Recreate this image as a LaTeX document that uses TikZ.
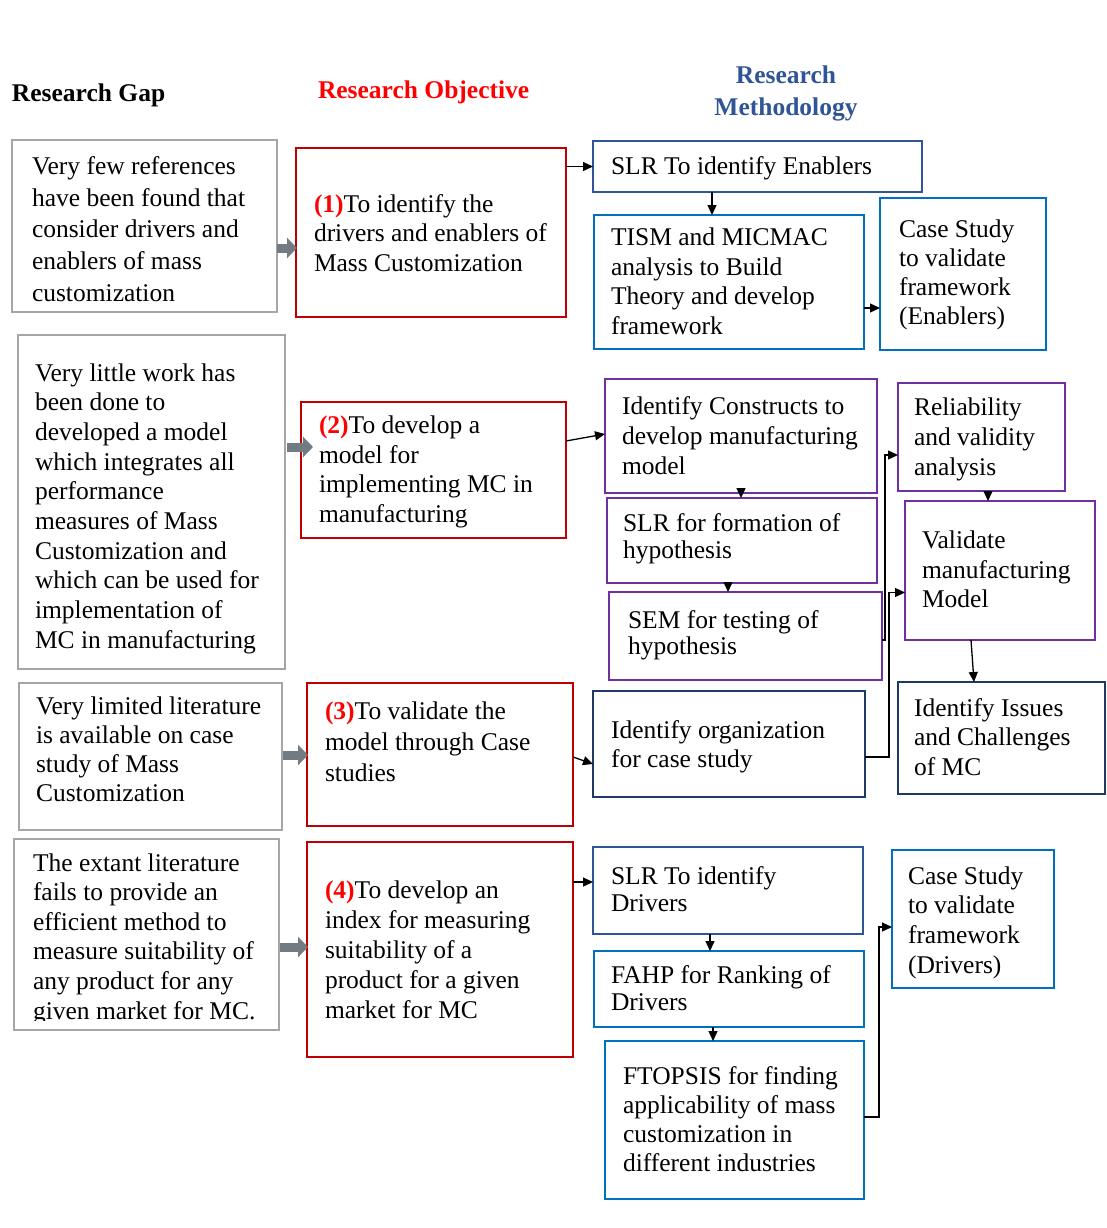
\documentclass[tikz,border=0pt]{standalone}
\usepackage{fontspec}
\setmainfont{Liberation Serif}
\usetikzlibrary{arrows.meta,calc}

\definecolor{gapgray}{HTML}{A6A6A6}
\definecolor{objred}{HTML}{C00000}
\definecolor{numred}{HTML}{FF0000}
\definecolor{midblue}{HTML}{2F5597}
\definecolor{brightblue}{HTML}{0070C0}
\definecolor{methpurple}{HTML}{7030A0}
\definecolor{darknavy}{HTML}{1F3864}
\definecolor{blockgray}{HTML}{727A82}

% a framed box given by its corners (x1,y1) and (x2,y2)
\newcommand\boxat[6]{%
  \node[#2, minimum width={(#5)-(#3)}, minimum height={(#6)-(#4)}]
    (#1) at ({((#3)+(#5))/2},{((#4)+(#6))/2}) {};}
% a left-aligned text block; #3 is the middle of the first line's x-height, #4 the line pitch
\newcommand\txtat[5]{\node[txt=#4] (#1) at (#2,{(#3)-11.7}) {#5};}
\newcommand\num[1]{{\bfseries\color{numred}(#1)}}

\tikzset{
  frame/.style={draw, line width=2.6pt, inner sep=0, outer sep=0, fill=white},
  gapbox/.style={frame, draw=gapgray},
  objbox/.style={frame, draw=objred},
  slrbox/.style={frame, draw=midblue},
  bluebox/.style={frame, draw=brightblue},
  purplebox/.style={frame, draw=methpurple},
  navybox/.style={frame, draw=darknavy},
  txt/.style={inner sep=0, outer sep=0, anchor=north west, align=left,
              font=\fontsize{25.5}{#1}\selectfont},
  txt/.default=29.7,
  hdr/.style={inner sep=0, outer sep=0, font=\bfseries\fontsize{25.5}{32}\selectfont},
  arr/.style={draw=black, line width=1.3pt, -{Triangle[length=10pt,width=9pt]}},
  fatarr/.style={draw=blockgray, line width=9pt, -{Triangle[length=10pt,width=20pt]}}
}

\begin{document}
\begin{tikzpicture}[x=1pt, y=-1pt]
\useasboundingbox (0,0) rectangle (1106,1228);

% column headings
\node[hdr, anchor=base west] (hgap) at (12,102) {Research Gap};
\node[hdr, anchor=base west, text=numred] (hobj) at (318,99) {Research Objective};
\node[hdr, anchor=north, align=center, text=midblue] (hmeth) at (786,66) {Research\\Methodology};

% research gaps
\boxat{g1}{gapbox}{12}{140}{277}{312}
\boxat{g2}{gapbox}{18}{335}{285}{669}
\boxat{g3}{gapbox}{19}{683}{282}{830}
\boxat{g4}{gapbox}{14}{839}{279}{1030}
\txtat{g1t}{32}{168}{31.75}{Very few references\\have been found that\\consider drivers and\\enablers of mass\\customization}
\txtat{g2t}{35}{375}{29.7}{Very little work has\\been done to\\developed a model\\which integrates all\\performance\\measures of Mass\\Customization and\\which can be used for\\implementation of\\MC in manufacturing}
\txtat{g3t}{36}{708}{29.3}{Very limited literature\\is available on case\\study of Mass\\Customization}
\begin{scope}
  \clip (g4.north west) rectangle ($(g4.south east)+(0,-10)$);
  \txtat{g4t}{33}{865}{29.6}{The extant literature\\fails to provide an\\efficient method to\\measure suitability of\\any product for any\\given market for MC.}
\end{scope}

% research objectives
\boxat{o1}{objbox}{296}{148}{566}{317}
\boxat{o2}{objbox}{301}{402}{566}{538}
\boxat{o3}{objbox}{307}{683}{573}{826}
\boxat{o4}{objbox}{307}{842}{573}{1057}
\txtat{o1t}{314}{206}{29.5}{\num{1}To identify the\\drivers and enablers of\\Mass Customization}
\txtat{o2t}{319}{428}{29.5}{\num{2}To develop a\\model for\\implementing MC in\\manufacturing}
\txtat{o3t}{325}{713}{31}{\num{3}To validate the\\model through Case\\studies}
\txtat{o4t}{325}{892}{30}{\num{4}To develop an\\index for measuring\\suitability of a\\product for a given\\market for MC}

% methodology: enablers
\boxat{m1}{slrbox}{593}{141}{922}{192}
\boxat{m2}{bluebox}{594}{215}{864}{349}
\boxat{m3}{bluebox}{880}{198}{1046}{350}
\txtat{m1t}{611}{168}{29.5}{SLR To identify Enablers}
\txtat{m2t}{611}{240}{29.4}{TISM and MICMAC\\analysis to Build\\Theory and develop\\framework}
\txtat{m3t}{899}{232}{29}{Case Study\\to validate\\framework\\(Enablers)}

% methodology: manufacturing model
\boxat{p1}{purplebox}{605}{379}{877}{493}
\boxat{p2}{purplebox}{607}{498}{877}{583}
\boxat{p3}{purplebox}{609}{592}{882}{680}
\boxat{p4}{purplebox}{898}{383}{1065}{491}
\boxat{p5}{purplebox}{905}{501}{1095}{640}
\txtat{p1t}{622}{408}{30}{Identify Constructs to\\develop manufacturing\\model}
\txtat{p2t}{623}{525}{27}{SLR for formation of\\hypothesis}
\txtat{p3t}{628}{622}{26.5}{SEM for testing of\\hypothesis}
\txtat{p4t}{914}{410}{30}{Reliability\\and validity\\analysis}
\txtat{p5t}{922}{543}{29.5}{Validate\\manufacturing\\Model}

% methodology: case study
\boxat{d1}{navybox}{593}{691}{865}{797}
\boxat{d2}{navybox}{898}{682}{1105}{794}
\txtat{d1t}{611}{732}{29}{Identify organization\\for case study}
\txtat{d2t}{914}{710}{29.5}{Identify Issues\\and Challenges\\of MC}

% methodology: drivers
\boxat{q1}{slrbox}{593}{847}{863}{934}
\boxat{q2}{bluebox}{594}{951}{864}{1027}
\boxat{q3}{bluebox}{605}{1041}{864}{1199}
\boxat{q4}{bluebox}{892}{850}{1054}{988}
\txtat{q1t}{611}{878}{27.5}{SLR To identify\\Drivers}
\txtat{q2t}{611}{977}{27.5}{FAHP for Ranking of\\Drivers}
\txtat{q3t}{623}{1078}{29}{FTOPSIS for finding\\applicability of mass\\customization in\\different industries}
\txtat{q4t}{908}{878}{29.7}{Case Study\\to validate\\framework\\(Drivers)}

% gap -> objective block arrows
\draw[fatarr] ($(g1.east)+(0,22)$) -- ($(o1.west)+(1,15.5)$);
\draw[fatarr] ($(g2.east)+(2,-55)$) -- ($(o2.west)+(12,-23)$);
\draw[fatarr] ($(g3.east)+(1,-1.5)$) -- ($(o3.west)+(1,0.5)$);
\draw[fatarr] ($(g4.east)+(1,12.5)$) -- ($(o4.west)+(1,-2.5)$);

% guide coordinates for vertical and horizontal runs
\coordinate (xa) at (712,0);
\coordinate (ya) at (0,308);
\coordinate (xb) at (741,0);
\coordinate (xc) at (728,0);
\coordinate (xd) at (988,0);
\coordinate (yb) at (0,882);
\coordinate (xe) at (710,0);
\coordinate (xf) at (713,0);

% objective 1
\draw[arr] (o1.east |- m1.west) -- (m1.west);
\draw[arr] (m1.south -| xa) -- (m2.north -| xa);
\draw[arr] (m2.east |- ya) -- (m3.west |- ya);

% objective 2
\draw[arr] ($(o2.north east)+(0,39)$) -- ($(p1.north west)+(0,55)$);
\draw[arr] (p1.south -| xb) -- (p2.north -| xb);
\draw[arr] (p2.south -| xc) -- (p3.north -| xc);
\draw[arr] ($(p3.east)+(0,4)$) -- ++(3,0) |- ($(p4.west)+(0,18)$);
\draw[arr] (p4.south -| xd) -- (p5.north -| xd);
\draw[arr] ($(p5.south)+(-29,0)$) -- ($(d2.north)+(-27.5,0)$);

% objective 3
\draw[arr] ($(o3.east)+(0,2.5)$) -- ($(d1.west)+(0,20)$);
\draw[arr] ($(d1.east)+(0,13)$) -- ++(24,0) |- ($(p5.west)+(0,22)$);

% objective 4
\draw[arr] (o4.east |- yb) -- (q1.west |- yb);
\draw[arr] (q1.south -| xe) -- (q2.north -| xe);
\draw[arr] (q2.south -| xf) -- (q3.north -| xf);
\draw[arr] ($(q3.east)+(0,-3)$) -- ++(15,0) |- ($(q4.west)+(0,8)$);
\end{tikzpicture}
\end{document}
